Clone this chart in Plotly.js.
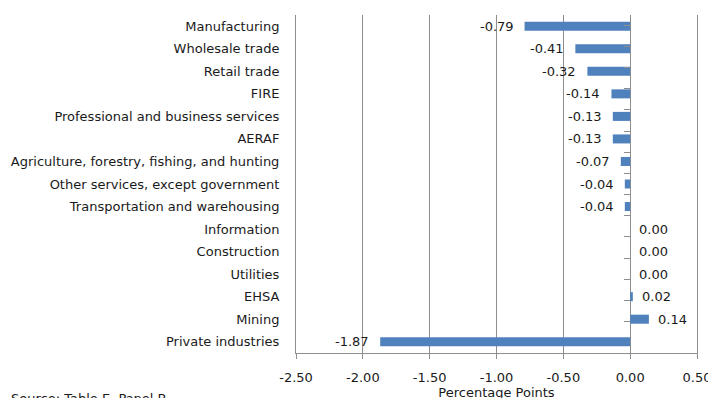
<!DOCTYPE html>
<html>
<head>
<meta charset="utf-8">
<script src="https://cdn.plot.ly/plotly-3.0.1.min.js"></script>
<style>
  html, body { margin: 0; padding: 0; background: #ffffff; overflow: hidden; }
  #chart { width: 708px; height: 414px; }
</style>
</head>
<body>
<div id="chart"></div>
<script>
// Industry contributions, top to bottom
const industries = [
  'Manufacturing',
  'Wholesale trade',
  'Retail trade',
  'FIRE',
  'Professional and business services',
  'AERAF',
  'Agriculture, forestry, fishing, and hunting',
  'Other services, except government',
  'Transportation and warehousing',
  'Information',
  'Construction',
  'Utilities',
  'EHSA',
  'Mining',
  'Private industries'
];
const contributions = [-0.79, -0.41, -0.32, -0.14, -0.13, -0.13, -0.07, -0.04, -0.04, 0.00, 0.00, 0.00, 0.02, 0.14, -1.87];

const tickValues = [-2.5, -2.0, -1.5, -1.0, -0.5, 0.0, 0.5];
const tickLabels = ['-2.50', '-2.00', '-1.50', '-1.00', '-0.50', '0.00', '0.50'];

const xRange = [-2.5, 0.5];
const gridGray = '#8e8e8e';
const textColor = '#1a1a1a';
const fontFamily = 'DejaVu Sans, sans-serif';
const fontSize = 13;

const bars = {
  type: 'bar',
  orientation: 'h',
  x: contributions,
  y: industries,
  marker: { color: '#4f81bd' },
  hoverinfo: 'skip',
  showlegend: false
};

// invisible companion trace so the zero-line axis knows the categories
const axisHelper = {
  type: 'scatter',
  mode: 'markers',
  x: contributions,
  y: industries,
  yaxis: 'y2',
  marker: { opacity: 0 },
  hoverinfo: 'skip',
  showlegend: false
};

// value labels beside each bar
const valueLabels = contributions.map((v, i) => ({
  x: v,
  y: industries[i],
  xref: 'x',
  yref: 'y',
  text: v.toFixed(2),
  showarrow: false,
  xanchor: v < 0 ? 'right' : 'left',
  xshift: v < 0 ? -9 : 7,
  font: { family: fontFamily, size: fontSize, color: textColor }
}));

const sourceNote = {
  xref: 'paper', yref: 'paper',
  x: 0, y: 0,
  xanchor: 'left', yanchor: 'top',
  xshift: -287, yshift: -36,
  text: 'Source: Table E, Panel B',
  showarrow: false,
  font: { family: fontFamily, size: fontSize, color: textColor }
};

const categoryAxis = {
  type: 'category',
  categoryorder: 'array',
  categoryarray: industries,
  autorange: 'reversed'
};

const layout = {
  width: 708,
  height: 414,
  margin: { l: 296, r: 11, t: 15, b: 61 },
  paper_bgcolor: '#ffffff',
  plot_bgcolor: '#ffffff',
  bargap: 0.6,
  font: { family: fontFamily, size: fontSize, color: textColor },
  xaxis: {
    range: xRange,
    tickmode: 'array',
    tickvals: tickValues,
    ticktext: tickLabels,
    showgrid: true,
    gridcolor: gridGray,
    gridwidth: 1,
    zeroline: true,
    zerolinecolor: gridGray,
    zerolinewidth: 1,
    showline: true,
    linecolor: gridGray,
    linewidth: 1,
    ticks: 'outside',
    ticklen: 5,
    tickcolor: gridGray,
    ticklabelstandoff: 7,
    ticklabeloverflow: 'allow',
    tickfont: { family: fontFamily, size: fontSize, color: textColor },
    title: { text: 'Percentage Points', standoff: 4, font: { family: fontFamily, size: fontSize, color: textColor } },
    fixedrange: true
  },
  yaxis: Object.assign({}, categoryAxis, {
    showgrid: false,
    zeroline: false,
    showline: true,
    mirror: true,
    linecolor: gridGray,
    linewidth: 1,
    ticks: '',
    ticklabelstandoff: 13,
    tickfont: { family: fontFamily, size: fontSize, color: textColor },
    fixedrange: true
  }),
  yaxis2: Object.assign({}, categoryAxis, {
    overlaying: 'y',
    anchor: 'free',
    side: 'left',
    position: (0 - xRange[0]) / (xRange[1] - xRange[0]),
    tickson: 'boundaries',
    ticks: 'outside',
    ticklen: 6,
    tickcolor: gridGray,
    showticklabels: false,
    showgrid: false,
    zeroline: false,
    showline: false,
    fixedrange: true
  }),
  annotations: valueLabels.concat([sourceNote])
};

Plotly.newPlot('chart', [bars, axisHelper], layout, { displayModeBar: false, staticPlot: true });
</script>
</body>
</html>
